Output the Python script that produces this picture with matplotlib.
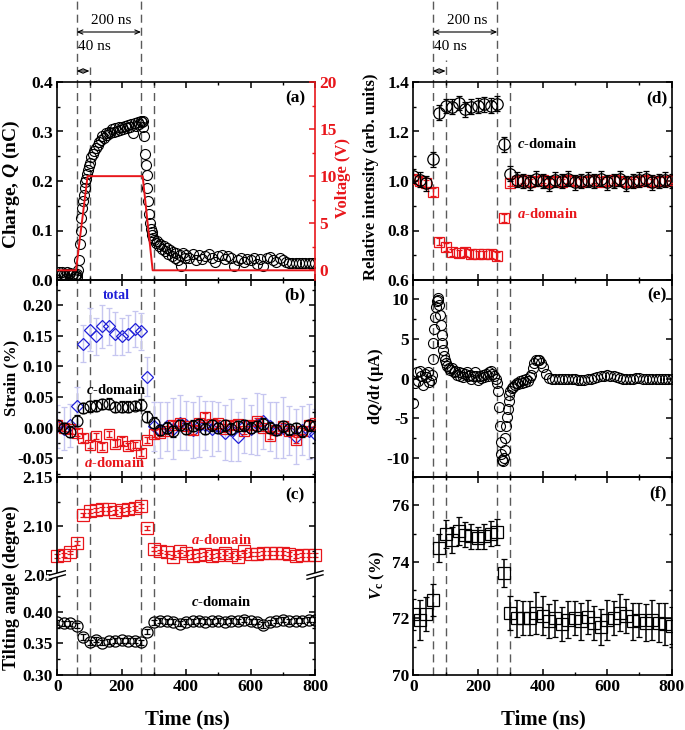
import numpy as np
import matplotlib
matplotlib.use("Agg")
import matplotlib.pyplot as plt
from matplotlib.transforms import blended_transform_factory
from matplotlib.lines import Line2D
from matplotlib.patches import Polygon
from matplotlib.ticker import MultipleLocator, FormatStrFormatter, FixedLocator

plt.rcParams.update({
    "font.family": ["Liberation Serif", "DejaVu Serif"],
    "font.weight": "bold",
    "mathtext.fontset": "custom",
    "mathtext.rm": "Liberation Serif:bold",
    "mathtext.it": "Liberation Serif:italic:bold",
    "mathtext.bf": "Liberation Serif:bold",
    "axes.linewidth": 1.2,
    "axes.unicode_minus": False,
    "xtick.labelsize": 12.5,
    "ytick.labelsize": 12.5,
})

RED = "#e8161b"
BLUE = "#2020d8"
LBLUE = "#c6c6f0"
GRAY = "#5a5a5a"

# ---------------- data ----------------
# (a)/(e) charge and current, fine time grid (ns)
t_q = np.concatenate([np.arange(0, 56, 5), np.arange(57.5, 100.1, 2.5),
                      np.arange(105, 261, 5), np.arange(262.5, 300.1, 2.5),
                      np.arange(305, 401, 5), np.arange(410, 801, 10)])
charge = [0.012, 0.016, 0.010, 0.017, 0.013, 0.009, 0.016, 0.012, 0.015, 0.010, 0.013, 0.008,
          0.010, 0.006, 0.012, 0.020, 0.040, 0.072, 0.098, 0.125, 0.145, 0.160, 0.172, 0.185,
          0.198, 0.205, 0.215, 0.222, 0.230, 0.236,
          0.248, 0.255, 0.260, 0.266, 0.272, 0.278, 0.283, 0.290, 0.286, 0.296, 0.292, 0.300,
          0.297, 0.305, 0.300, 0.307, 0.302, 0.309, 0.304, 0.310, 0.306, 0.312, 0.308, 0.314,
          0.310, 0.316, 0.296, 0.318, 0.312, 0.320, 0.316, 0.321,
          0.319, 0.321, 0.310, 0.290, 0.255, 0.232, 0.212, 0.185, 0.160, 0.133, 0.115, 0.104,
          0.097, 0.091, 0.085, 0.080,
          0.074, 0.078, 0.068, 0.072, 0.063, 0.068, 0.058, 0.064, 0.052, 0.060, 0.048, 0.056,
          0.045, 0.054, 0.040, 0.050, 0.028, 0.055, 0.045, 0.050,
          0.045, 0.052, 0.040, 0.050, 0.042, 0.048, 0.052, 0.044, 0.036, 0.048,
          0.050, 0.042, 0.048, 0.045, 0.028, 0.040, 0.044, 0.036, 0.043, 0.040,
          0.045, 0.032, 0.042, 0.028, 0.044, 0.046, 0.040, 0.036, 0.044, 0.040,
          0.036, 0.035, 0.035, 0.035, 0.035, 0.035, 0.035, 0.035, 0.035, 0.035]
current = [-3.0, -0.6, 0.8, -0.3, 1.0, 0.4, -0.8, 0.6, 0.2, 0.9, -0.4, -0.2,
           0.5, 2.5, 4.5, 6.2, 7.8, 9.0, 9.8, 10.1, 9.9, 9.2, 8.0, 6.8, 5.5, 4.5, 3.6, 2.9, 2.4, 2.0,
           1.6, 1.4, 1.1, 1.3, 0.8, 1.0, 0.5, 0.9, 0.3, 0.7, 0.2, 0.6, 0.9, 0.3, 0.5, 0.0,
           0.4, 0.8, 0.3, -0.2, 0.4, 0.1, 0.5, 0.2, 0.6, 0.3, 0.8, 1.0, 0.6, 0.3, 0.0, -0.5,
           -1.5, -3.5, -6.0, -8.0, -9.5, -10.2, -10.4, -10.0, -9.0, -7.5, -6.0, -4.8, -3.8, -2.8,
           -2.1, -1.6,
           -1.2, -1.0, -0.8, -0.6, -0.7, -0.3, -0.5, -0.2, -0.4, 0.0, -0.3, 0.2, 0.5, 1.3, 2.0,
           2.3, 2.4, 2.3, 2.0, 1.5,
           0.6, 0.1, 0.0, 0.0, 0.0, 0.0, 0.0, 0.0, -0.05, -0.1, -0.15, -0.2, -0.15, -0.05, 0.0,
           0.1, 0.2, 0.3, 0.4, 0.45, 0.4, 0.3, 0.2, 0.1, 0.0, -0.05, -0.05, 0.0, 0.05, 0.05,
           0.0, 0.0, 0.0, 0.0, 0.0, 0.0, 0.0, 0.0, 0.0, 0.0]
t_volt = [0, 58, 94, 265, 296, 800]
voltage = [0, 0, 10, 10, 0, 0]

# XRD delay times (ns)
t_x = list(range(0, 801, 20))
strain_total = [0.002, -0.002, 0.004, 0.036, 0.137, 0.160, 0.149, 0.165, 0.165, 0.153, 0.149, 0.153,
                0.161, 0.157, 0.083,
                0.002, -0.004, 0.002, -0.002, 0.008, 0.004, -0.004, 0.002, 0.004, -0.002,
                0.002, -0.008, -0.004, -0.015, 0.003, -0.003, 0.006, 0.010, 0.002, -0.004,
                0.000, -0.005, -0.015, -0.004, -0.006, -0.010]
strain_total_err = [0.035, 0.035, 0.035, 0.030, 0.030, 0.035, 0.030, 0.035, 0.030, 0.035, 0.030,
                    0.030, 0.030, 0.030, 0.032,
                    0.040, 0.045, 0.040, 0.050, 0.045, 0.040, 0.045, 0.050, 0.040, 0.045,
                    0.040, 0.045, 0.050, 0.040, 0.045, 0.040, 0.050, 0.045, 0.040, 0.045,
                    0.050, 0.040, 0.045, 0.040, 0.045, 0.040]
strain_c = [0.004, 0.000, -0.007, 0.011, 0.032, 0.035, 0.036, 0.038, 0.039, 0.034, 0.034, 0.034,
            0.036, 0.037, 0.018,
            0.008, -0.004, 0.000, -0.006, 0.004, -0.002, 0.003, 0.006, -0.002, 0.004,
            0.000, 0.004, -0.002, 0.002, 0.004, 0.000, 0.003, 0.006, 0.000, -0.004,
            0.002, -0.003, 0.000, -0.006, 0.004, 0.002]
strain_c_err = [0.009, 0.008, 0.009, 0.009, 0.008, 0.009, 0.009, 0.008, 0.009, 0.008, 0.009,
                0.009, 0.008, 0.009, 0.009,
                0.009, 0.008, 0.009, 0.009, 0.008, 0.009, 0.009, 0.008, 0.009, 0.009,
                0.008, 0.009, 0.009, 0.008, 0.009, 0.009, 0.008, 0.009, 0.009, 0.008,
                0.009, 0.009, 0.008, 0.009, 0.009, 0.008]
strain_a = [0.005, 0.000, -0.003, -0.008, -0.017, -0.028, -0.014, -0.031, -0.010, -0.026, -0.022,
            -0.030, -0.028, -0.041, -0.020,
            -0.010, -0.008, -0.005, 0.005, 0.008, 0.002, -0.004, 0.008, 0.018, 0.006,
            0.008, -0.002, 0.004, 0.006, -0.006, 0.004, 0.010, 0.000, -0.013, -0.004,
            0.002, -0.006, -0.020, -0.006, 0.004, 0.008]
strain_a_err = [0.005, 0.005, 0.006, 0.005, 0.006, 0.005, 0.005, 0.006, 0.005, 0.005, 0.006,
                0.005, 0.005, 0.006, 0.005,
                0.006, 0.005, 0.005, 0.006, 0.005, 0.005, 0.006, 0.005, 0.005, 0.006,
                0.005, 0.005, 0.006, 0.005, 0.005, 0.006, 0.005, 0.005, 0.006, 0.005,
                0.005, 0.006, 0.005, 0.005, 0.006, 0.005]
tilt_a = [2.069, 2.070, 2.073, 2.083, 2.111, 2.115, 2.116, 2.117, 2.117, 2.114, 2.116, 2.117,
          2.118, 2.120, 2.098,
          2.077, 2.074, 2.073, 2.068, 2.074, 2.072, 2.069, 2.070, 2.071, 2.069,
          2.070, 2.072, 2.070, 2.068, 2.074, 2.071, 2.071, 2.072, 2.072, 2.072,
          2.072, 2.071, 2.069, 2.070, 2.070, 2.070]
tilt_c = [0.383, 0.382, 0.382, 0.378, 0.360, 0.352, 0.356, 0.351, 0.353, 0.354, 0.355, 0.354,
          0.354, 0.352, 0.368,
          0.383, 0.386, 0.385, 0.384, 0.381, 0.384, 0.385, 0.386, 0.384, 0.385,
          0.386, 0.384, 0.386, 0.385, 0.387, 0.385, 0.384, 0.379, 0.383, 0.386,
          0.387, 0.385, 0.386, 0.386, 0.387, 0.387]
tilt_a_err = 0.002
tilt_c_err = 0.004
inten_c = [1.020, 1.005, 0.990, 1.088, 1.276, 1.303, 1.300, 1.315, 1.290, 1.300, 1.305, 1.310,
           1.305, 1.313, 1.148,
           1.030, 1.005, 1.000, 0.995, 1.010, 1.000, 0.990, 1.005, 1.000, 1.010,
           0.995, 1.000, 1.005, 1.000, 1.010, 0.995, 1.000, 1.010, 0.990, 1.000,
           1.005, 1.010, 0.995, 1.000, 1.005, 1.000]
inten_c_err = 0.03
inten_a = [1.010, 1.000, 0.990, 0.955, 0.755, 0.733, 0.712, 0.708, 0.713, 0.705, 0.704, 0.704,
           0.705, 0.697, 0.850,
           0.993, 1.000, 1.005, 0.995, 1.000, 1.005, 0.995, 1.000, 0.995, 1.005,
           1.000, 0.995, 1.000, 1.005, 0.995, 1.000, 1.005, 1.000, 0.995, 0.995,
           1.000, 1.005, 0.995, 1.000, 1.000, 1.005]
inten_a_err = 0.015
vc = [72.15, 71.95, 72.15, 72.65, 74.5, 74.98, 74.78, 75.1, 74.96, 74.9, 74.84, 74.9, 75.0,
      75.05, 73.6,
      72.2, 72.0, 72.0, 72.0, 72.2, 72.1, 71.9, 72.0, 71.8, 71.95,
      72.0, 71.9, 72.05, 71.85, 71.7, 71.95, 72.0, 72.2, 72.1, 71.9,
      71.95, 71.85, 71.95, 71.85, 71.8, 71.75]
vc_err = [0.55, 0.7, 0.6, 0.55, 0.5, 0.5, 0.45, 0.5, 0.45, 0.45, 0.4, 0.45, 0.45, 0.45, 0.5,
          0.6, 0.65, 0.6, 0.6, 0.75, 0.7, 0.6, 0.65, 0.6, 0.65,
          0.6, 0.65, 0.6, 0.6, 0.65, 0.7, 0.6, 0.65, 0.6, 0.65,
          0.6, 0.65, 0.7, 0.7, 0.75, 0.65]
marks = [60, 100, 260, 300]

# ---------------- layout ----------------
FW, FH = 685, 730
fig = plt.figure(figsize=(FW / 100, FH / 100), dpi=100)


def fy(px):
    return 1 - px / FH


def fx(px):
    return px / FW


LX, LW = 57.3, 257.7
RX, RW = 413.3, 258.4
ax_a = fig.add_axes([fx(LX), fy(280), LW / FW, 198 / FH])
ax_b = fig.add_axes([fx(LX), fy(477), LW / FW, 197 / FH])
ax_cu = fig.add_axes([fx(LX), fy(575), LW / FW, 98 / FH])
ax_cl = fig.add_axes([fx(LX), fy(675), LW / FW, 100 / FH])
ax_d = fig.add_axes([fx(RX), fy(280), RW / FW, 198 / FH])
ax_e = fig.add_axes([fx(RX), fy(477), RW / FW, 197 / FH])
ax_f = fig.add_axes([fx(RX), fy(675), RW / FW, 198 / FH])


def style(ax, labelbottom=False, top=True, bottom=True, right=True):
    ax.set_facecolor("none")
    ax.set_xlim(0, 800)
    ax.xaxis.set_major_locator(MultipleLocator(200))
    ax.xaxis.set_minor_locator(MultipleLocator(100))
    ax.tick_params(which="both", direction="in", top=top, bottom=bottom, right=right,
                   labelbottom=labelbottom, pad=3)
    ax.tick_params(which="major", length=4.5, width=1.1)
    ax.tick_params(which="minor", length=2.5, width=1.0)


for ax in (ax_a, ax_b, ax_d, ax_e):
    style(ax)
style(ax_a, right=False)
style(ax_cu, bottom=False)
style(ax_cl, labelbottom=True, top=False)
style(ax_f, labelbottom=True)
ax_cu.spines["bottom"].set_visible(False)
ax_cl.spines["top"].set_visible(False)

# ---------------- (a) ----------------
ax_a.plot(t_q, charge, "o", mfc="none", mec="k", ms=7.2, mew=0.8, zorder=3)
ax_a.set_ylim(0, 0.4)
ax_a.yaxis.set_major_locator(MultipleLocator(0.1))
ax_a.yaxis.set_minor_locator(MultipleLocator(0.05))
ax_a.yaxis.set_major_formatter(FormatStrFormatter("%.1f"))
ax_a.spines["right"].set_visible(False)
ax_a2 = ax_a.twinx()
ax_a2.plot(t_volt, voltage, color=RED, lw=1.4, zorder=2)
ax_a2.set_ylim(-1.03, 20)
ax_a2.yaxis.set_major_locator(FixedLocator([0, 5, 10, 15, 20]))
ax_a2.yaxis.set_minor_locator(FixedLocator([2.5, 7.5, 12.5, 17.5]))
ax_a2.yaxis.set_major_formatter(FormatStrFormatter("%d"))
ax_a2.tick_params(which="both", direction="in", colors=RED, labelcolor=RED, pad=3)
ax_a2.tick_params(which="major", length=4.5, width=1.1)
ax_a2.tick_params(which="minor", length=2.5, width=1.0)
ax_a2.spines["right"].set_color(RED)
for s in ("left", "top", "bottom"):
    ax_a2.spines[s].set_visible(False)
ax_a.text(0.961, 0.919, "(a)", transform=ax_a.transAxes, ha="right", va="center", fontsize=12.5)

# ---------------- (b) ----------------
ax_b.errorbar(t_x, strain_total, yerr=strain_total_err, fmt="D", mfc="none", mec=BLUE,
              ms=6.5, mew=0.9, ecolor=LBLUE, elinewidth=1.0, capsize=2, capthick=1.0, zorder=2)
ax_b.errorbar(t_x, strain_a, yerr=strain_a_err, fmt="s", mfc="none", mec=RED, ms=7.5, mew=0.9,
              ecolor=RED, elinewidth=1.0, capsize=2, capthick=1.0, zorder=3)
ax_b.errorbar(t_x, strain_c, yerr=strain_c_err, fmt="o", mfc="none", mec="k", ms=7.8, mew=0.9,
              ecolor="k", elinewidth=1.0, capsize=2.4, capthick=1.0, zorder=4)
ax_b.set_ylim(-0.0806, 0.2408)
ax_b.yaxis.set_major_locator(FixedLocator([-0.05, 0.0, 0.05, 0.10, 0.15, 0.20]))
ax_b.yaxis.set_minor_locator(FixedLocator([-0.075, -0.025, 0.025, 0.075, 0.125, 0.175, 0.225]))
ax_b.yaxis.set_major_formatter(FormatStrFormatter("%.2f"))
ax_b.text(183, 0.215, "total", color=BLUE, ha="center", va="center", fontsize=10)
ax_b.text(183, 0.061, "$c$-domain", color="k", ha="center", va="center", fontsize=10.5)
ax_b.text(178, -0.058, "$a$-domain", color=RED, ha="center", va="center", fontsize=10.5)
ax_b.text(0.961, 0.924, "(b)", transform=ax_b.transAxes, ha="right", va="center", fontsize=12.5)

# ---------------- (c) ----------------
ax_cu.errorbar(t_x, tilt_a, yerr=tilt_a_err, fmt="s", mfc="none", mec=RED, ms=8, mew=0.9,
               ecolor=RED, elinewidth=1.0, capsize=2, capthick=1.0, clip_on=False)
ax_cu.set_ylim(2.05, 2.15)
ax_cu.yaxis.set_major_locator(FixedLocator([2.05, 2.10, 2.15]))
ax_cu.yaxis.set_minor_locator(FixedLocator([2.075, 2.125]))
ax_cu.yaxis.set_major_formatter(FormatStrFormatter("%.2f"))
ax_cu.text(510, 2.086, "$a$-domain", color=RED, ha="center", va="center", fontsize=10.5)
ax_cu.text(0.961, 0.816, "(c)", transform=ax_cu.transAxes, ha="right", va="center", fontsize=12.5)

ax_cl.errorbar(t_x, tilt_c, yerr=tilt_c_err, fmt="o", mfc="none", mec="k", ms=8, mew=0.9,
               ecolor="k", elinewidth=1.0, capsize=2, capthick=1.0)
ax_cl.set_ylim(0.30, 0.458)
ax_cl.yaxis.set_major_locator(FixedLocator([0.30, 0.35, 0.40]))
ax_cl.yaxis.set_minor_locator(FixedLocator([0.325, 0.375, 0.425]))
ax_cl.yaxis.set_major_formatter(FormatStrFormatter("%.2f"))
ax_cl.text(510, 0.415, "$c$-domain", color="k", ha="center", va="center", fontsize=10.5)

# ---------------- (d) ----------------
ax_d.errorbar(t_x, inten_a, yerr=inten_a_err, fmt="s", mfc="none", mec=RED, ms=7.6, mew=0.9,
              ecolor=RED, elinewidth=1.0, capsize=2, capthick=1.0, zorder=3)
ax_d.errorbar(t_x, inten_c, yerr=inten_c_err, fmt="o", mfc="none", mec="k", ms=8.2, mew=0.9,
              ecolor="k", elinewidth=1.0, capsize=2.4, capthick=1.0, zorder=4)
ax_d.set_ylim(0.6, 1.4)
ax_d.yaxis.set_major_locator(MultipleLocator(0.2))
ax_d.yaxis.set_minor_locator(MultipleLocator(0.1))
ax_d.yaxis.set_major_formatter(FormatStrFormatter("%.1f"))
ax_d.text(320, 1.151, "$c$-domain", color="k", ha="left", va="center", fontsize=10.5)
ax_d.text(320, 0.867, "$a$-domain", color=RED, ha="left", va="center", fontsize=10.5)
ax_d.text(0.982, 0.919, "(d)", transform=ax_d.transAxes, ha="right", va="center", fontsize=12.5)

# ---------------- (e) ----------------
ax_e.plot(t_q, current, "o", mfc="none", mec="k", ms=7.2, mew=0.8)
ax_e.set_ylim(-12.35, 12.4)
ax_e.yaxis.set_major_locator(MultipleLocator(5))
ax_e.yaxis.set_minor_locator(MultipleLocator(2.5))
ax_e.yaxis.set_major_formatter(FormatStrFormatter("%d"))
ax_e.text(0.982, 0.924, "(e)", transform=ax_e.transAxes, ha="right", va="center", fontsize=12.5)

# ---------------- (f) ----------------
ax_f.errorbar(t_x, vc, yerr=vc_err, fmt="s", mfc="none", mec="k", ms=8.2, mew=0.9,
              ecolor="k", elinewidth=1.1, capsize=2.4, capthick=1.1)
ax_f.set_ylim(70, 77)
ax_f.yaxis.set_major_locator(MultipleLocator(2))
ax_f.yaxis.set_minor_locator(MultipleLocator(1))
ax_f.yaxis.set_major_formatter(FormatStrFormatter("%d"))
ax_f.text(0.982, 0.919, "(f)", transform=ax_f.transAxes, ha="right", va="center", fontsize=12.5)

# ---------------- axis labels ----------------
fig.text(fx(11), fy(184), "Charge, $Q$ (nC)", rotation=90, ha="center", va="center", fontsize=14)
fig.text(fx(343), fy(178), "Voltage (V)", rotation=90, ha="center", va="center",
         fontsize=12, color=RED)
fig.text(fx(11), fy(378), "Strain (%)", rotation=90, ha="center", va="center", fontsize=12)
fig.text(fx(11), fy(588), "Tilting angle (degree)", rotation=90, ha="center", va="center",
         fontsize=13)
fig.text(fx(371), fy(177), "Relative intensity (arb. units)", rotation=90, ha="center",
         va="center", fontsize=12)
fig.text(fx(376), fy(386), "d$Q$/d$t$ (μA)", rotation=90, ha="center", va="center", fontsize=12)
fig.text(fx(377), fy(575), "$V_{\\rm c}$ (%)", rotation=90, ha="center", va="center", fontsize=12)
fig.text(fx(187), fy(719), "Time (ns)", ha="center", va="center", fontsize=15)
fig.text(fx(543), fy(719), "Time (ns)", ha="center", va="center", fontsize=15)

# ---------------- dashed markers and arrows ----------------
for ax_ref, top100 in ((ax_cl, 67), (ax_f, 60)):
    tr = blended_transform_factory(ax_ref.transData, fig.transFigure)
    tops = {60: 0, 100: top100, 260: 0, 300: 82}
    for tm in marks:
        fig.add_artist(Line2D([tm, tm], [fy(675), fy(tops[tm])], transform=tr, color=GRAY,
                              lw=1.0, linestyle=(0, (5.8, 3.6)), zorder=-1))
    ap = dict(arrowstyle="<->,head_length=0.35,head_width=0.15", lw=0.8, color="k",
              shrinkA=0, shrinkB=0)
    ax_ref.annotate("", xy=(60, fy(32)), xytext=(260, fy(32)),
                    xycoords=("data", "figure fraction"), textcoords=("data", "figure fraction"),
                    arrowprops=ap, annotation_clip=False)
    ax_ref.annotate("", xy=(60, fy(71)), xytext=(100, fy(71)),
                    xycoords=("data", "figure fraction"), textcoords=("data", "figure fraction"),
                    arrowprops=ap, annotation_clip=False)
    fig.text(0, fy(21), "200 ns", transform=tr, ha="center", va="center", fontsize=11,
             fontweight="normal").set_x(168)
    fig.text(0, fy(46), "40 ns", transform=tr, ha="left", va="center", fontsize=11,
             fontweight="normal").set_x(64)

# ---------------- axis break marks in (c) ----------------
def brk(xc, yc):
    hw, dy, g = 8, 2.2, 2.0
    up = [(xc - hw, yc - g + dy), (xc + hw, yc - g - dy)]
    lo = [(xc - hw, yc + g + dy), (xc + hw, yc + g - dy)]
    poly = [up[0], up[1], lo[1], lo[0]]
    fig.add_artist(Polygon([(fx(x), fy(y)) for x, y in poly], closed=True,
                           transform=fig.transFigure, facecolor="white", edgecolor="none",
                           zorder=5))
    for seg in (up, lo):
        fig.add_artist(Line2D([fx(p[0]) for p in seg], [fy(p[1]) for p in seg],
                              transform=fig.transFigure, color="k", lw=1.0, zorder=6))


brk(LX, 575)
brk(LX + LW, 575)

fig.savefig("out.png", dpi=100)
